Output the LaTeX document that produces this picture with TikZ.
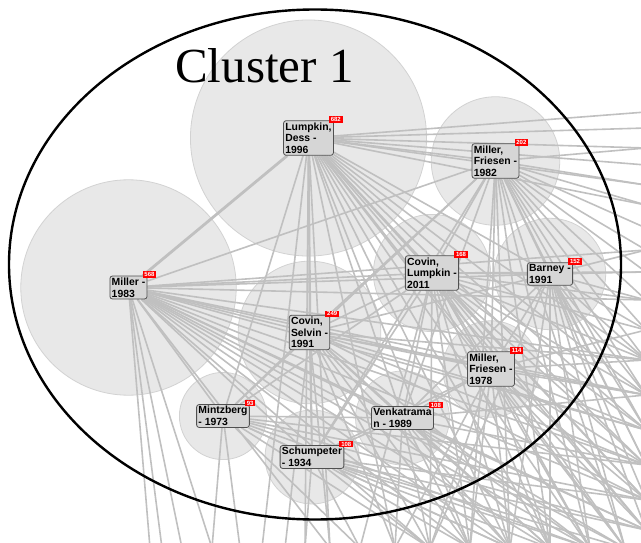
\documentclass[tikz,border=0pt]{standalone}
\usepackage{fontspec}
\setmainfont{Liberation Sans}
\newfontfamily\clusterfont{Liberation Serif}
\usetikzlibrary{positioning}
\definecolor{haloFill}{RGB}{232,232,232}
\definecolor{haloLine}{RGB}{210,210,210}
\definecolor{webGray}{RGB}{192,192,192}
\definecolor{boxFill}{RGB}{214,214,214}
\definecolor{boxLine}{RGB}{80,80,80}
\pgfdeclarelayer{halo}
\pgfdeclarelayer{web}
\pgfsetlayers{halo,web,main}
\tikzset{
  paper/.style={
    rectangle, rounded corners=2.5pt, draw=boxLine, fill=boxFill,
    line width=0.8pt, align=left, inner sep=1.8pt,
    font=\fontsize{10.4}{11.7}\selectfont\bfseries
  },
  badge/.style={
    rectangle, fill=red, text=white, anchor=west,
    inner xsep=1.8pt, inner ysep=0.6pt, minimum height=6.5pt,
    font=\fontsize{6}{6}\selectfont\bfseries
  },
  halo/.style={draw=haloLine, fill=haloFill, line width=0.8pt},
  link/.style={draw=webGray, line width=1.6pt},
  cluster/.style={draw=black, line width=2.4pt},
}

\begin{document}
\begin{tikzpicture}[x=1pt, y=-1pt]
  \useasboundingbox (0,0) rectangle (641,543);

  % papers
  \node (lumpkin)   [paper] at (308.5,138) {Lumpkin,\\Dess -\\1996};
  \node (miller83)  [paper] at (128.5,287.5) {Miller -\\1983};
  \node (friesen82) [paper] at (495.5,161) {Miller,\\Friesen -\\1982};
  \node (covinlump) [paper] at (432,273) {Covin,\\Lumpkin -\\2011};
  \node (barney)    [paper] at (550,274) {Barney -\\1991};
  \node (covinsel)  [paper] at (309.5,332.5) {Covin,\\Selvin -\\1991};
  \node (friesen78) [paper] at (491,369) {Miller,\\Friesen -\\1978};
  \node (mintz)     [paper] at (223,416) {Mintzberg\\- 1973};
  \node (venkat)    [paper] at (402.5,418) {Venkatrama\\n - 1989};
  \node (schump)    [paper] at (312,457) {Schumpeter\\- 1934};

  % citation counts
  \foreach \p/\n in {lumpkin/682, miller83/568, friesen82/202, covinlump/168,
      barney/152, covinsel/249, friesen78/114, mintz/93, venkat/108, schump/108}
    \node (\p-n) [badge] at ([xshift=-5pt, yshift=1pt]\p.north east) {\n};

  % free ends outside the frame
  \foreach \i/\y in {1/112, 2/128, 3/148, 4/165, 5/185, 6/205, 7/228, 8/250,
      9/272, 10/300, 11/330, 12/360, 13/395, 14/430, 15/465, 16/500, 17/530}
    \coordinate (r\i) at (646,\y);
  \foreach \i/\x in {1/150, 2/162, 3/182, 4/212, 5/240, 6/262, 7/285, 8/305,
      9/330, 10/360, 11/395, 12/430, 13/470, 14/510, 15/550, 16/590, 17/625}
    \coordinate (b\i) at (\x,548);

  % size circles
  \begin{pgfonlayer}{halo}
    \clip (0,0) rectangle (641,543);
    \foreach \p/\n in {lumpkin/682, miller83/568, friesen82/202, covinlump/168,
        barney/152, covinsel/249, friesen78/114, mintz/93, venkat/108, schump/108}
      \draw [halo] (\p.center) circle [radius={4.52*sqrt(\n)}];
  \end{pgfonlayer}

  % citation links
  \begin{pgfonlayer}{web}
    \clip (0,0) rectangle (641,543);
    \draw [link, line width=2.8pt] (lumpkin) -- (miller83);
    \foreach \t in {friesen82, covinlump, barney, covinsel, schump, venkat,
        friesen78, mintz, r1, r2, r3, r4, r5, r6, r12, r13, r14, r15, r16, r17,
        b6, b8, b9, b11, b13, b14, b15, b16, b17}
      \draw [link] (lumpkin) -- (\t);
    \foreach \t in {covinlump, barney, friesen82, covinsel, mintz, schump,
        venkat, friesen78, r8, r10, r12, r13, r14, r15, r16, r17,
        b1, b2, b3, b4, b9, b12, b13, b14, b15, b16, b17}
      \draw [link] (miller83) -- (\t);
    \foreach \t in {covinlump, covinsel, barney, friesen78, venkat, mintz, schump,
        r3, r5, r6, r7, r8, r9, r10, r11, r12, r13, r14, r15,
        b13, b14, b15, b16, b17}
      \draw [link] (friesen82) -- (\t);
    \foreach \t in {barney, covinsel, venkat, friesen78, schump, mintz,
        r9, r10, r11, r12, r13, r14, r15, r16, r17,
        b10, b12, b13, b14, b15, b16, b17}
      \draw [link] (covinlump) -- (\t);
    \foreach \t in {covinsel, friesen78, venkat, r8, r9, r10, r11, r12, r13,
        r14, r15, r16, r17, b12, b14, b15, b16, b17}
      \draw [link] (barney) -- (\t);
    \foreach \t in {schump, venkat, friesen78, mintz, r12, r13, r14, r15, r16,
        b7, b9, b11, b12, b13, b14, b15, b16}
      \draw [link] (covinsel) -- (\t);
    \foreach \t in {venkat, schump, r11, r12, r13, r14, r15, r16, r17,
        b11, b12, b13, b14, b15, b16, b17}
      \draw [link] (friesen78) -- (\t);
    \foreach \t in {venkat, schump, r15, r16, r17, b4, b5, b10, b12, b14, b16}
      \draw [link] (mintz) -- (\t);
    \foreach \t in {schump, r13, r15, r17, b11, b12, b13, b14, b15, b16, b17}
      \draw [link] (venkat) -- (\t);
    \foreach \t in {r16, r17, b8, b10, b12, b13, b14, b15, b16, b17}
      \draw [link] (schump) -- (\t);
  \end{pgfonlayer}

  % cluster outline
  \draw [cluster] (315,264.5) ellipse [x radius=306, y radius=255];
  \node (title) [anchor=base west, inner sep=0pt,
    font=\fontsize{49}{49}\selectfont\clusterfont] at (175,83) {Cluster 1};
\end{tikzpicture}
\end{document}
